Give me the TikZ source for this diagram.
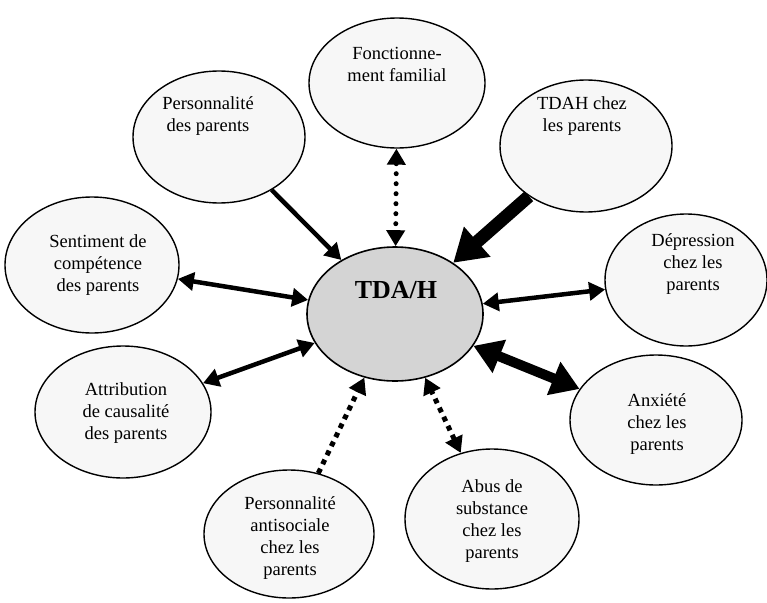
\documentclass[tikz,border=0pt]{standalone}
\usepackage{fontspec}
\setmainfont{Liberation Serif}
\usetikzlibrary{shapes.geometric,arrows.meta}
\begin{document}
\begin{tikzpicture}[x=1pt,y=-1pt,
  outer/.style={ellipse,draw,line width=1.4pt,fill=black!3,inner sep=0pt},
  inner/.style={ellipse,draw,line width=1.6pt,fill=black!17,inner sep=0pt},
  lbl/.style={align=center,font=\fontsize{18.5}{22}\selectfont,inner sep=0pt},
  solidarrow/.style={line width=4.5pt,-{Triangle[length=16pt,width=18pt]}},
  solidboth/.style={line width=4.5pt,{Triangle[length=16pt,width=18pt]}-{Triangle[length=16pt,width=18pt]}},
  dotone/.style={line width=5pt,dash pattern=on 5pt off 5pt,-{Triangle[length=16pt,width=18pt]}},
  dotboth/.style={line width=5pt,dash pattern=on 5pt off 5pt,{Triangle[length=16pt,width=18pt]}-{Triangle[length=16pt,width=18pt]}},
]
\useasboundingbox (0,0) rectangle (767,602);
% central node
\node[inner,minimum width=176pt,minimum height=134pt] (tda) at (395,314) {};
\node[inner sep=0pt,font=\fontsize{26}{28}\bfseries\selectfont] (tdat) at (396,290) {TDA/H};
% outer nodes
\node[outer,minimum width=176pt,minimum height=130pt] (fonc) at (397,83) {};
\node[outer,minimum width=172pt,minimum height=132pt] (pers) at (219,137) {};
\node[outer,minimum width=172pt,minimum height=132pt] (tdah) at (586,146) {};
\node[outer,minimum width=174pt,minimum height=136pt] (sent) at (92,265) {};
\node[outer,minimum width=162pt,minimum height=132pt] (dep) at (686,280) {};
\node[outer,minimum width=176pt,minimum height=132pt] (attr) at (123,412) {};
\node[outer,minimum width=172pt,minimum height=130pt] (anx) at (656,420) {};
\node[outer,minimum width=170pt,minimum height=128pt] (anti) at (289,534) {};
\node[outer,minimum width=174pt,minimum height=140pt] (abus) at (492,519) {};
% labels
\node[lbl] (font) at (397,64) {Fonctionne-\\ment familial};
\node[lbl] (perst) at (208,116) {Personnalité\\des parents};
\node[lbl] (tdaht) at (582,116) {TDAH chez\\les parents};
\node[lbl] (sentt) at (98,265) {Sentiment de\\compétence\\des parents};
\node[lbl] (dept) at (693,264) {Dépression\\chez les\\parents};
\node[lbl] (attrt) at (126,413) {Attribution\\de causalité\\des parents};
\node[lbl] (anxt) at (657,424) {Anxiété\\chez les\\parents};
\node[lbl] (antit) at (290,538) {Personnalité\\antisociale\\chez les\\parents};
\node[lbl] (abust) at (492,521) {Abus de\\substance\\chez les\\parents};
% connectors
\draw[solidarrow] (pers) -- (tda);
\draw[dotboth,line cap=round,dash pattern=on 0pt off 10pt] (fonc) -- (tda);
\draw[line width=13pt,-{Triangle[length=32pt,width=38pt]}] (tdah) -- (tda);
\draw[solidboth] (sent) -- (tda);
\draw[solidboth] (dep) -- (tda);
\draw[solidboth] (attr) -- (tda);
\draw[line width=10pt,{Triangle[length=28pt,width=34pt]}-{Triangle[length=28pt,width=34pt]}] (anx) -- (tda);
\draw[dotone] (anti) -- (tda);
\draw[dotboth] (abus) -- (tda);
\end{tikzpicture}
\end{document}
